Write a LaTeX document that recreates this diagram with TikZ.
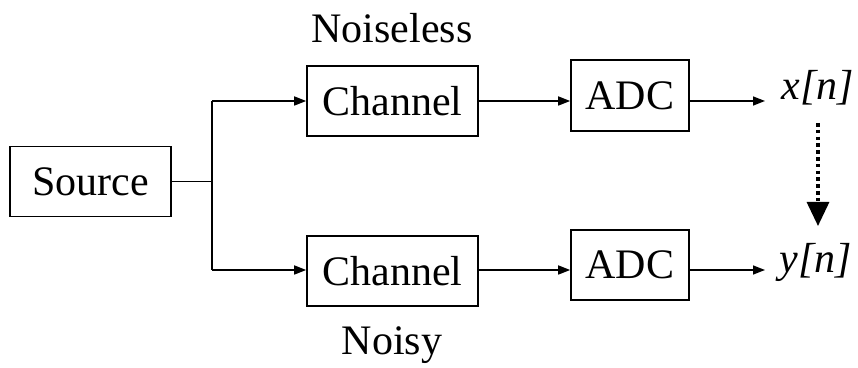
\documentclass[tikz,border=0pt]{standalone}
\usepackage{fontspec}
\setmainfont{Liberation Serif}
\usetikzlibrary{arrows.meta}
\begin{document}
\begin{tikzpicture}[x=0.5pt,y=-0.5pt,
  blk/.style={draw,line width=0.8pt,minimum width=#1*0.5pt,inner sep=0pt,font=\fontsize{21}{25}\selectfont},
  lbl/.style={inner sep=0pt,font=\fontsize{21}{25}\selectfont},
  conn/.style={line width=0.75pt,-{Triangle[length=6pt,width=4.5pt]}},
  plain/.style={line width=0.75pt}]
\useasboundingbox (0,0) rectangle (858,368);
\node[blk=161,minimum height=35pt] (src) at (90.5,181.5) {Source};
\node[blk=171,minimum height=35pt] (chT) at (392.5,101) {Channel};
\node[blk=171,minimum height=35pt] (chB) at (392.5,271) {Channel};
\node[blk=118,minimum height=35.5pt] (adcT) at (630,95.5) {ADC};
\node[blk=118,minimum height=35pt] (adcB) at (630,265) {ADC};
\node[lbl] (nl) at (392,28) {Noiseless};
\node[lbl] (ny) at (392,345) {Noisy};
\node[lbl,anchor=west] (x) at (781,88) {\itshape x[n]};
\node[lbl,anchor=west] (y) at (779,262) {\itshape y[n]};
\coordinate (j) at (212,181.5);
\coordinate (jT) at (212,101);
\coordinate (jB) at (212,270);
\coordinate (eT) at (765,101);
\coordinate (eB) at (765,270);
\coordinate (dS) at (818,123);
\coordinate (dE) at (818,226);
\draw[plain] (src.east) -- (j);
\draw[plain] (jT) -- (jB);
\draw[conn] (jT) -- (chT.west |- jT);
\draw[conn] (jB) -- (chB.west |- jB);
\draw[conn] (chT.east |- jT) -- (adcT.west |- jT);
\draw[conn] (chB.east |- jB) -- (adcB.west |- jB);
\draw[conn] (adcT.east |- jT) -- (eT);
\draw[conn] (adcB.east |- jB) -- (eB);
\draw[line width=1.6pt,dash pattern=on 1.8pt off 1.6pt,-{Triangle[length=12pt,width=11pt]}] (dS) -- (dE);
\end{tikzpicture}
\end{document}
